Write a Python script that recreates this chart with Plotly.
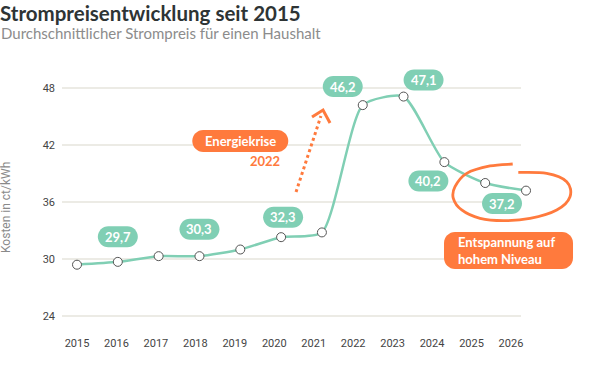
import plotly.graph_objects as go

# ---- data ----
years = list(range(2015, 2027))
price = [29.4, 29.7, 30.3, 30.3, 31.0, 32.3, 32.8, 46.2, 47.1, 40.2, 38.0, 37.2]
label_years = [2016, 2018, 2020, 2022, 2023, 2024, 2026]
label_text = ["29,7", "30,3", "32,3", "46,2", "47,1", "40,2", "37,2"]
y_ticks = [24, 30, 36, 42, 48]

# ---- style ----
MINT = "#80CFB4"
ORANGE = "#FF7A3D"
GRID = "#E6E4DD"
TICKC = "#444444"
FONT = "Lato"

# pill offsets (px) relative to each labelled point
label_dx = [0, 0, 2, -20, 20, -16, -24]
label_dy = [25, 27, 20, 18.5, 16.5, -19, -13]

def pill(cx, cy, w, h, r):
    k = 0.5523 * r
    x0, x1, y0, y1 = cx - w / 2, cx + w / 2, cy - h / 2, cy + h / 2
    return (f"M{x0+r},{y0} L{x1-r},{y0} C{x1-r+k},{y0} {x1},{y0+r-k} {x1},{y0+r} "
            f"L{x1},{y1-r} C{x1},{y1-r+k} {x1-r+k},{y1} {x1-r},{y1} "
            f"L{x0+r},{y1} C{x0+r-k},{y1} {x0},{y1-r+k} {x0},{y1-r} "
            f"L{x0},{y0+r} C{x0},{y0+r-k} {x0+r-k},{y0} {x0+r},{y0} Z")

def smooth_path(pts):
    # Catmull-Rom -> cubic Bezier
    s = f"M{pts[0][0]},{pts[0][1]}"
    for i in range(len(pts) - 1):
        p0 = pts[i - 1] if i > 0 else pts[i]
        p1, p2 = pts[i], pts[i + 1]
        p3 = pts[i + 2] if i + 2 < len(pts) else pts[i + 1]
        c1 = (p1[0] + (p2[0] - p0[0]) / 6, p1[1] + (p2[1] - p0[1]) / 6)
        c2 = (p2[0] - (p3[0] - p1[0]) / 6, p2[1] - (p3[1] - p1[1]) / 6)
        s += f" C{c1[0]:.1f},{c1[1]:.1f} {c2[0]:.1f},{c2[1]:.1f} {p2[0]:.1f},{p2[1]:.1f}"
    return s

fig = go.Figure()
fig.add_trace(go.Scatter(
    x=years, y=price, mode="lines+markers",
    line=dict(color=MINT, width=2.5, shape="spline", smoothing=0.6),
    marker=dict(size=9, color="white", line=dict(color="#555555", width=1)),
    cliponaxis=False, hoverinfo="skip", showlegend=False))

shapes = []
annotations = []

# gridlines (stop short of the right end of the plot area)
GRID_END = 459 / 528
for t in y_ticks:
    shapes.append(dict(type="line", xref="paper", yref="y", x0=0, x1=GRID_END, y0=t, y1=t,
                       line=dict(color=GRID, width=1.5), layer="below"))

# value pills
value_of = dict(zip(years, price))
for yr, txt, dx, dy in zip(label_years, label_text, label_dx, label_dy):
    shapes.append(dict(type="path", xref="x", yref="y", xsizemode="pixel", ysizemode="pixel",
                       xanchor=yr, yanchor=value_of[yr], path=pill(dx, dy, 40, 21, 10.5),
                       fillcolor=MINT, line=dict(width=0)))
    annotations.append(dict(x=yr, y=value_of[yr], xref="x", yref="y", text=txt, showarrow=False,
                            xshift=dx, yshift=dy, font=dict(family=FONT, size=13, color="white", weight="bold")))

# Energiekrise pill
shapes.append(dict(type="path", xref="x", yref="y", xsizemode="pixel", ysizemode="pixel",
                   xanchor=2019, yanchor=42, path=pill(0, 4, 96, 22, 11),
                   fillcolor=ORANGE, line=dict(width=0)))
annotations.append(dict(x=2019, y=42, text="Energiekrise", showarrow=False, xshift=0, yshift=4,
                        font=dict(family=FONT, size=13, color="white", weight="bold")))
annotations.append(dict(x=2019, y=42, text="2022", showarrow=False, xshift=24.7, yshift=-16,
                        font=dict(family=FONT, size=13, color=ORANGE, weight="bold")))

# dotted arrow
shapes.append(dict(type="line", xref="x", yref="y", xsizemode="pixel", ysizemode="pixel",
                   xanchor=2021, yanchor=36, x0=-25.9, y0=10, x1=-1, y1=86,
                   line=dict(color=ORANGE, width=3, dash="dot")))
shapes.append(dict(type="path", xref="x", yref="y", xsizemode="pixel", ysizemode="pixel",
                   xanchor=2021, yanchor=36, path="M-9.9,85 L1.1,92 L8.1,79",
                   line=dict(color=ORANGE, width=3)))

# hand-drawn ellipse around 2025/2026
ell_screen = [(512.7, 164), (490, 166), (466.7, 173.3), (455, 186.7), (453.3, 198.3), (461.7, 210),
              (480, 218.3), (503.3, 220.7), (530, 218.3), (556.7, 210), (570, 196.7),
              (566.7, 181.7), (546.7, 173.3), (518.3, 172.3)]
ax_px, ay_px = 505.6, 187.75
ell = [(x - ax_px, ay_px - y) for x, y in ell_screen]
shapes.append(dict(type="path", xref="x", yref="y", xsizemode="pixel", ysizemode="pixel",
                   xanchor=2025.5, yanchor=37.5, path=smooth_path(ell),
                   line=dict(color=ORANGE, width=2.8)))

# Entspannung pill
shapes.append(dict(type="path", xref="x", yref="y", xsizemode="pixel", ysizemode="pixel",
                   xanchor=2025.5, yanchor=30, path=pill(2.9, 8.5, 129, 37, 11),
                   fillcolor=ORANGE, line=dict(width=0)))
annotations.append(dict(x=2025.5, y=30, text="Entspannung auf<br>hohem Niveau", showarrow=False,
                        xanchor="left", align="left", xshift=-49.5, yshift=8.5,
                        font=dict(family=FONT, size=13, color="white", weight="bold")))

# title, subtitle and y-axis title
annotations.append(dict(xref="paper", yref="paper", x=-63 / 528, y=335 / 275,
                        xanchor="left", yanchor="top", borderpad=0,
                        text="<b>Strompreisentwicklung seit 2015</b>", showarrow=False,
                        font=dict(family=FONT, size=20.5, color="#2E3435")))
annotations.append(dict(xref="paper", yref="paper", x=-63 / 528, y=(335 - 22) / 275,
                        xanchor="left", yanchor="top",
                        text="Durchschnittlicher Strompreis für einen Haushalt", showarrow=False,
                        font=dict(family=FONT, size=15, color="#8C8C8C")))
annotations.append(dict(xref="paper", yref="paper", x=-56 / 528, y=0.4618, textangle=-90,
                        xanchor="center", yanchor="middle",
                        text="Kosten in ct/kWh", showarrow=False,
                        font=dict(family="Roboto", size=12, color="#8A8A8A")))

tick_ratio = 39.45 / 40.82
fig.update_layout(
    width=600, height=367,
    margin=dict(l=62, r=10, t=60, b=32),
    paper_bgcolor="white", plot_bgcolor="white",
    xaxis=dict(range=[2014.6325, 2014.6325 + 528 / 40.82], showgrid=False, zeroline=False, showline=False,
               tickmode="array", tickvals=[2015 + (y - 2015) * tick_ratio for y in years],
               ticktext=[str(y) for y in years],
               tickfont=dict(family="Roboto", size=11, color=TICKC)),
    yaxis=dict(range=[22.0, 50.95], showgrid=False, zeroline=False, showline=False,
               tickmode="array", tickvals=y_ticks, ticklabelstandoff=6,
               tickfont=dict(family="Roboto", size=11, color=TICKC)),
    shapes=shapes, annotations=annotations,
)

fig.write_html("out.html", config={"displayModeBar": False},
               post_script="document.body.style.margin='0';")
